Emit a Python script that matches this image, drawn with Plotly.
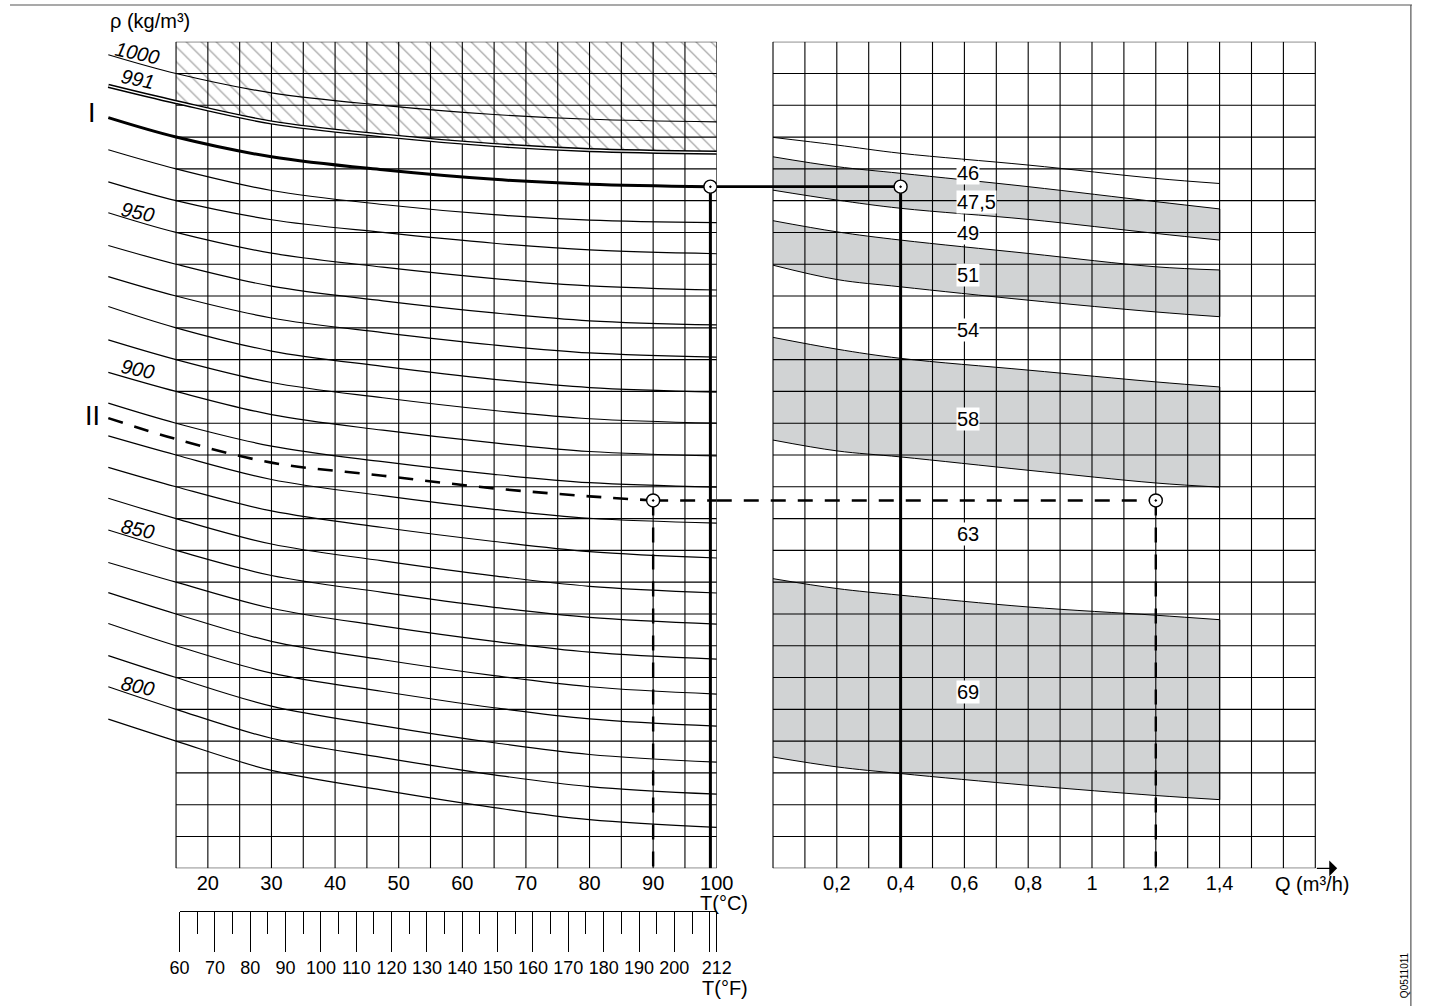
import plotly.graph_objects as go

W, H = 1429, 1006
FONT = "Liberation Sans, Arial, sans-serif"

# ---- density curves rho(T), read at these temperatures (°C) ----
T_PTS = [4.35, 15, 30, 47.5, 65, 80, 100]
RHO_AT_T4 = [1005.9, 976.0, 965.9, 956.2, 945.9, 936.1, 926.7, 916.2, 906.0, 896.3,
             886.0, 876.1, 866.4, 856.4, 846.2, 836.7, 827.0, 816.9, 807.1, 796.9]
RHO_AT_T15 = [1000, 970, 960, 950, 940, 930, 920, 910, 900, 890,
              880, 870, 860, 850, 840, 830, 820, 810, 800, 790]
RHO_AT_T30 = [993.9, 963.2, 954.0, 943.5, 933.1, 923.1, 912.7, 902.8, 892.7, 882.8,
              872.3, 862.4, 852.0, 842.1, 831.8, 821.4, 811.4, 801.0, 790.9, 780.8]
RHO_AT_T47 = [990.0, 958.8, 950.0, 939.1, 928.5, 918.5, 907.9, 898.0, 887.8, 877.9,
              867.2, 857.2, 846.7, 836.8, 826.2, 815.6, 805.6, 794.8, 784.8, 774.6]
RHO_AT_T65 = [987.1, 955.6, 946.6, 935.5, 924.7, 914.6, 903.8, 894.0, 883.8, 873.9,
              862.9, 852.8, 842.0, 832.1, 821.4, 810.6, 800.5, 789.5, 779.4, 769.1]
RHO_AT_T80 = [985.6, 953.9, 944.5, 933.2, 922.2, 912.1, 901.2, 891.4, 881.1, 871.3,
              860.1, 849.6, 838.7, 828.9, 818.0, 807.1, 797.0, 785.8, 775.7, 765.3]
RHO_AT_T100 = [984.8, 953.1, 943.3, 931.9, 920.9, 910.8, 899.8, 890.0, 879.7, 869.9,
               858.6, 847.6, 836.6, 826.8, 815.8, 804.8, 794.7, 783.4, 773.3, 762.9]

# 991 curve (double line, limit of the hatched zone)
RHO_991 = [996.1, 991.0, 984.6, 980.5, 977.5, 975.9, 975.1]

# example I (solid) and II (dashed)
T_I = [4.35, 15, 30, 47.5, 65, 80, 99]
RHO_I = [986.1, 980.0, 973.8, 969.7, 966.7, 965.2, 964.4]
Q_I = 0.4
T_II = [4.35, 15, 30, 47.5, 65, 80, 90]
RHO_II = [891.6, 885.0, 877.6, 873.5, 869.5, 867.0, 865.7]
Q_II = 1.2

# ---- right panel: bands vs flow Q (m3/h) ----
Q_PTS = [0, 0.2, 0.4, 0.8, 1.2, 1.4]
LINE_46 = [979.9, 977.5, 974.9, 971.2, 967.0, 965.4]
BAND_475_TOP = [973.8, 970.7, 968.6, 964.4, 959.7, 957.4]
BAND_475_BOT = [963.3, 960.2, 957.6, 954.1, 949.7, 947.6]
BAND_51_TOP = [953.7, 950.2, 947.6, 943.4, 939.2, 938.2]
BAND_51_BOT = [939.7, 935.2, 932.9, 928.7, 925.0, 923.5]
BAND_58_TOP = [917.0, 913.3, 910.4, 906.7, 903.0, 901.4]
BAND_58_BOT = [884.7, 881.3, 879.4, 875.2, 871.2, 869.9]
BAND_69_TOP = [841.1, 838.0, 835.9, 832.2, 829.6, 828.2]
BAND_69_BOT = [785.0, 781.9, 779.8, 776.1, 772.9, 771.6]

BAND_LABELS = ["46", "47,5", "49", "51", "54", "58", "63", "69"]
BAND_LABEL_RHO = [968.8, 959.6, 949.9, 936.6, 919.3, 891.2, 855.3, 805.4]

# axis ticks
T_TICKS = [20, 30, 40, 50, 60, 70, 80, 90, 100]
Q_TICKS = [0.2, 0.4, 0.6, 0.8, 1.0, 1.2, 1.4]
Q_TICKTEXT = ["0,2", "0,4", "0,6", "0,8", "1", "1,2", "1,4"]
F_TICKS = [60, 70, 80, 90, 100, 110, 120, 130, 140, 150, 160, 170, 180, 190, 200, 210, 212]
F_TICKTEXT = ["60", "70", "80", "90", "100", "110", "120", "130", "140", "150", "160",
              "170", "180", "190", "200", "", "212"]
F_MINOR = [65, 75, 85, 95, 105, 115, 125, 135, 145, 155, 165, 175, 185, 195, 205]

RHO_MIN, RHO_MAX, RHO_STEP = 750, 1010, 10
T_MIN, T_MAX, T_STEP = 15, 100, 5
Q_MAX = 1.7

# ---- page geometry (pixels) ----
PX_T15, PX_T100 = 174.8, 716.0
PX_Q0, PX_Q14 = 772.3, 1219.3
PX_TOP, PX_BOT = 41.7, 868.3
C_PER_PX = (T_MAX - T_MIN) / (PX_T100 - PX_T15)
Q_PER_PX = 1.4 / (PX_Q14 - PX_Q0)
# horizontal correction measured on the rendered page
SX, OX = 0.982, 8.6


def fx(p):
    return min(max((p - OX) / SX / W, 0.0), 1.0)


def fy(p):
    return 1 - p / H


left_range = [T_MIN - (PX_T15 - 80) * C_PER_PX, T_MAX]
right_range = [(716 - PX_Q0) * Q_PER_PX, (1345 - PX_Q0) * Q_PER_PX]
GRAY = "#d1d3d4"

fig = go.Figure()


def line(x, y, xa="x", width=1.0, dash=None, shape="spline", color="black", **kw):
    fig.add_trace(go.Scatter(x=x, y=y, xaxis=xa, yaxis="y", mode="lines",
                             line=dict(color=color, width=width, dash=dash, shape=shape,
                                       smoothing=1.0),
                             hoverinfo="skip", showlegend=False, **kw))


# hatched zone above the 991 curve
line([T_MIN, T_MAX], [RHO_MAX, RHO_MAX], width=0, shape="linear")
fig.add_trace(go.Scatter(x=T_PTS[1:], y=RHO_991[1:], xaxis="x", yaxis="y", mode="lines",
                         line=dict(width=0, shape="spline"), fill="tonexty",
                         fillcolor="rgba(255,255,255,0)",
                         fillpattern=dict(shape="\\", size=10.6, solidity=0.12,
                                          fgcolor="#505050", bgcolor="white"),
                         hoverinfo="skip", showlegend=False))

# gray bands
BANDS = [(BAND_475_TOP, BAND_475_BOT), (BAND_51_TOP, BAND_51_BOT),
         (BAND_58_TOP, BAND_58_BOT), (BAND_69_TOP, BAND_69_BOT)]
for top, bot in BANDS:
    line(Q_PTS, top, xa="x2")
    line(Q_PTS, bot, xa="x2", fill="tonexty", fillcolor=GRAY)
ex, ey = [], []
for top, bot in BANDS:
    ex += [Q_PTS[-1], Q_PTS[-1], None]
    ey += [top[-1], bot[-1], None]
line(ex, ey, xa="x2", width=1.3, shape="linear")
line(Q_PTS, LINE_46, xa="x2")

# grids
rhos = list(range(RHO_MIN, RHO_MAX + 1, RHO_STEP))
gx, gy = [], []
for t in range(T_MIN, T_MAX + 1, T_STEP):
    gx += [t, t, None]
    gy += [RHO_MIN, RHO_MAX, None]
for r in rhos:
    gx += [T_MIN, T_MAX, None]
    gy += [r, r, None]
line(gx, gy, width=1.1, shape="linear")
qx, qy = [], []
for i in range(18):
    q = i / 10
    qx += [q, q, None]
    qy += [RHO_MIN, RHO_MAX, None]
for r in rhos:
    qx += [0, Q_MAX, None]
    qy += [r, r, None]
line(qx, qy, xa="x2", width=1.1, shape="linear")

# density curve family
cols = [RHO_AT_T4, RHO_AT_T15, RHO_AT_T30, RHO_AT_T47, RHO_AT_T65, RHO_AT_T80, RHO_AT_T100]
for i in range(len(RHO_AT_T15)):
    line(T_PTS, [c[i] for c in cols], width=1.2)
line(T_PTS, RHO_991, width=4.2)
line(T_PTS, RHO_991, width=1.4, color="white")

# example I
line(T_I, RHO_I, width=3)
line([T_I[-1], T_MAX], [RHO_I[-1]] * 2, width=2.6, shape="linear")
line([right_range[0], Q_I], [RHO_I[-1]] * 2, xa="x2", width=2.6, shape="linear")
line([T_I[-1]] * 2, [RHO_I[-1], RHO_MIN], width=3, shape="linear")
line([Q_I] * 2, [RHO_I[-1], RHO_MIN], xa="x2", width=3, shape="linear")

# example II
DASH = "15px,12px"
line(T_II, RHO_II, width=2.6, dash=DASH)
line([T_II[-1], T_MAX], [RHO_II[-1]] * 2, width=2.6, dash=DASH, shape="linear")
line([right_range[0], Q_II], [RHO_II[-1]] * 2, xa="x2", width=2.6, dash=DASH, shape="linear")
line([T_II[-1]] * 2, [RHO_II[-1], RHO_MIN], width=2.4, dash=DASH, shape="linear")
line([Q_II] * 2, [RHO_II[-1], RHO_MIN], xa="x2", width=2.4, dash=DASH, shape="linear")

# reading points
mk = dict(symbol="circle-dot", size=13, color="white", line=dict(color="black", width=1.4))
fig.add_trace(go.Scatter(x=[T_I[-1], T_II[-1]], y=[RHO_I[-1], RHO_II[-1]], xaxis="x", yaxis="y",
                         mode="markers", marker=mk, hoverinfo="skip", showlegend=False))
fig.add_trace(go.Scatter(x=[Q_I, Q_II], y=[RHO_I[-1], RHO_II[-1]], xaxis="x2", yaxis="y",
                         mode="markers", marker=mk, hoverinfo="skip", showlegend=False))
# Fahrenheit scale carrier
fig.add_trace(go.Scatter(x=[F_TICKS[0], F_TICKS[-1]], y=[None, None], xaxis="x3", yaxis="y",
                         mode="lines", hoverinfo="skip", showlegend=False))

FS = 20
ann = []
fnt = dict(family=FONT, size=FS, color="black")


def page_text(px, py, text, xanchor="center", **kw):
    ann.append(dict(x=fx(px), y=fy(py), xref="paper", yref="paper", text=text,
                    showarrow=False, xanchor=xanchor, yanchor="middle", **kw))


page_text(107, 21, "ρ (kg/m³)", xanchor="left", font=fnt)
t_lab = T_MIN + (136 - PX_T15) * C_PER_PX
for txt, r in zip(["1000", "991", "950", "900", "850", "800"],
                  [1006.4, 998.3, 956.3, 907.0, 856.7, 807.2]):
    ann.append(dict(x=t_lab, y=r, xref="x", yref="y", text="<i>" + txt + "</i>",
                    showarrow=False, textangle=12, xanchor="center", yanchor="middle",
                    font=dict(family=FONT, size=FS)))
t_rom = T_MIN + (91 - PX_T15) * C_PER_PX
for txt, r in [("I", 987.6), ("II", 892.2)]:
    ann.append(dict(x=t_rom, y=r, xref="x", yref="y", text=txt, showarrow=False,
                    xanchor="center", yanchor="middle", font=dict(family=FONT, size=27)))
q_lab = (955 - PX_Q0) * Q_PER_PX
for txt, r in zip(BAND_LABELS, BAND_LABEL_RHO):
    ann.append(dict(x=q_lab, y=r, xref="x2", yref="y", text=txt, showarrow=False,
                    xanchor="left", yanchor="middle", bgcolor="white", borderpad=0, font=fnt))
page_text(749, 903, "T(°C)", xanchor="right", font=fnt)
page_text(749, 988, "T(°F)", xanchor="right", font=fnt)
page_text(1312, 884, "Q (m³/h)", font=fnt)
ann.append(dict(x=(1337 - PX_Q0) * Q_PER_PX, y=RHO_MIN, xref="x2", yref="y",
                ax=Q_MAX, ay=RHO_MIN, axref="x2", ayref="y", text="", showarrow=True,
                arrowhead=1, arrowsize=2.2, arrowwidth=1.2, arrowcolor="black"))
page_text(1404, 975, "Q0511011", textangle=-90, font=dict(family=FONT, size=10))

shapes = [
    dict(type="line", xref="paper", yref="paper", x0=0, x1=fx(1421), y0=fy(5), y1=fy(5),
         line=dict(color="#555", width=1.2)),
    dict(type="line", xref="paper", yref="paper", x0=fx(1421) - 0.0008, x1=fx(1421) - 0.0008,
         y0=fy(5), y1=0, line=dict(color="#555", width=1.2)),
]

noax = dict(showgrid=False, zeroline=False, showline=False)
tick_common = dict(ticks="", ticklabelstandoff=1, tickfont=dict(size=FS), **noax)
fig.update_layout(
    width=W, height=H, margin=dict(l=0, r=0, t=0, b=0),
    paper_bgcolor="white", plot_bgcolor="rgba(0,0,0,0)",
    font=dict(family=FONT, color="black"),
    xaxis=dict(domain=[fx(80), fx(716)], range=left_range, anchor="y",
               tickvals=T_TICKS, **tick_common),
    xaxis2=dict(domain=[fx(716), fx(1345)], range=right_range, anchor="y",
                tickvals=Q_TICKS, ticktext=Q_TICKTEXT, **tick_common),
    xaxis3=dict(domain=[fx(PX_T15 + (15.556 - 15) / C_PER_PX), fx(PX_T100)],
                range=[F_TICKS[0], F_TICKS[-1]], anchor="free", position=fy(911),
                side="bottom", showline=True, linecolor="black", linewidth=1,
                showgrid=False, zeroline=False,
                tickvals=F_TICKS, ticktext=F_TICKTEXT, ticks="outside", ticklen=40,
                tickwidth=1, tickcolor="black", tickfont=dict(size=18),
                minor=dict(tickvals=F_MINOR, ticks="outside", ticklen=22, tickwidth=1,
                           tickcolor="black", showgrid=False)),
    yaxis=dict(domain=[fy(PX_BOT), fy(PX_TOP)], range=[RHO_MIN, RHO_MAX], anchor="x",
               showticklabels=False, ticks="", **noax),
    annotations=ann, shapes=shapes,
)

fig.write_html("out.html", config={"displayModeBar": False},
               post_script="document.body.style.margin='0';"
                           "document.documentElement.style.overflow='hidden';")
